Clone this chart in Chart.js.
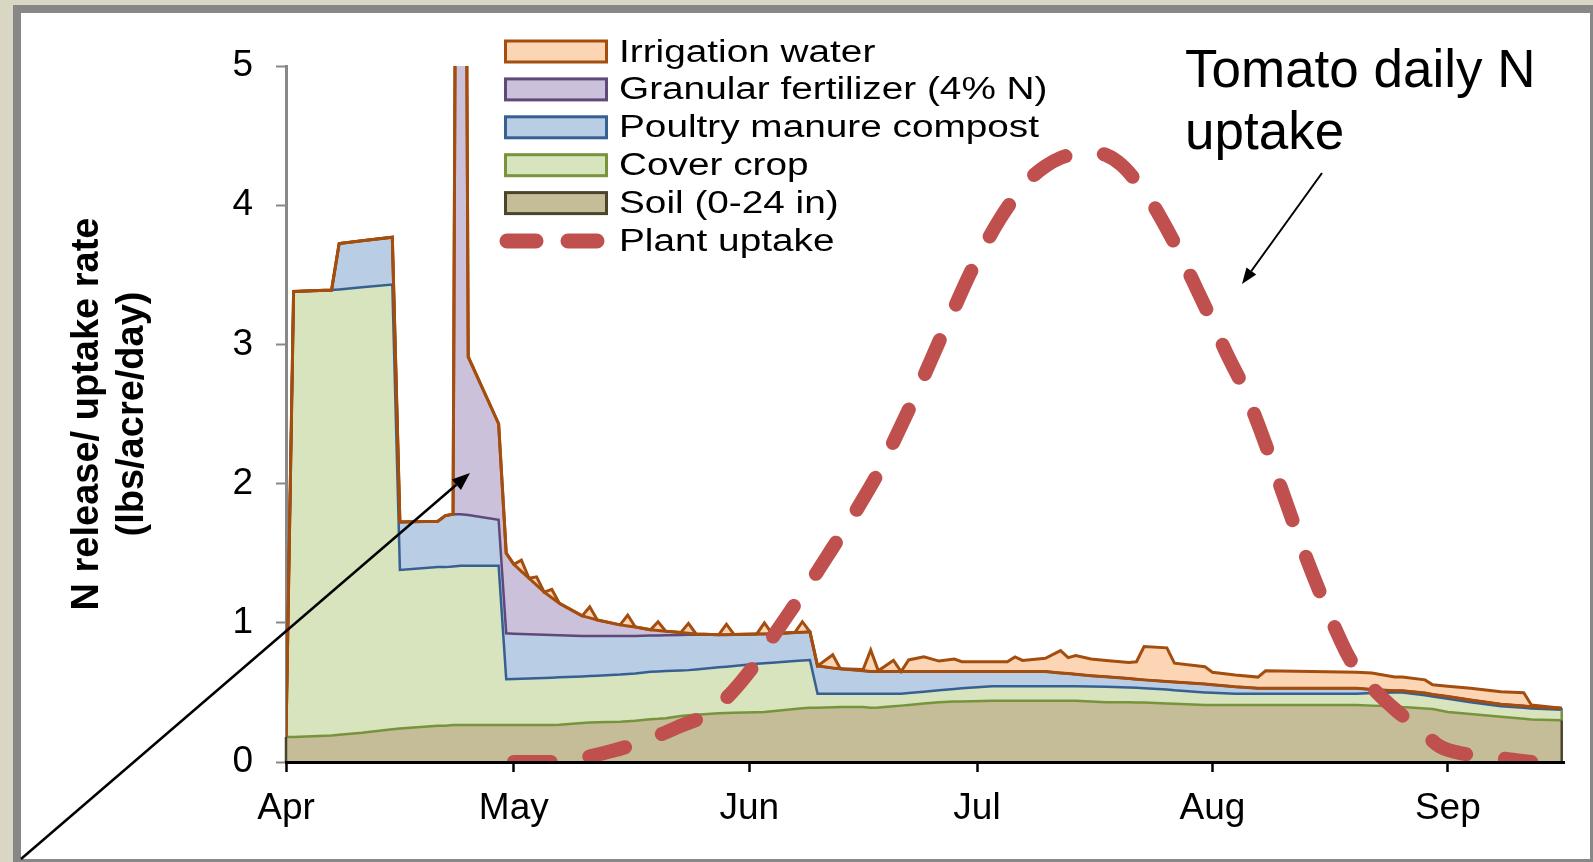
<!DOCTYPE html>
<html><head><meta charset="utf-8">
<script src="https://cdn.jsdelivr.net/npm/chart.js@4.4.0/dist/chart.umd.min.js"></script>
<style>html,body{margin:0;padding:0;background:#fff;}canvas{display:block;}</style>
</head><body>
<canvas id="c" width="1593" height="862"></canvas>
<script>
// ---- data (days after April 1) ----
const days = [0,1,6,7,10,14,15,20,21,22,23,24,28,
  29,30,31,32,33,34,35,36,
  39,40,41,44,45,46,48,49,50,52,53,54,
  57,58,59,62,63,64,67,68,69,
  70,72,73,76,77,78,80,81,82,84,86,88,89,
  93,95,96,97,100,102,103,104,106,108,
  111,112,113,116,117,121,122,125,128,129,
  135,141,143,146,147,150,151,153,156,160,163,164,168];

const soil = [.18,.18,.19,.195,.21,.235,.24,.26,.26,.265,.265,.265,.266,
  .266,.266,.266,.266,.266,.266,.266,.267,
  .28,.283,.286,.29,.293,.296,.307,.31,.315,.33,.335,.34,
  .35,.352,.354,.358,.36,.365,.38,.386,.39,
  .39,.393,.395,.395,.39,.392,.40,.405,.41,.42,.43,.435,.435,
  .44,.44,.44,.44,.44,.44,.44,.44,.435,.43,
  .43,.428,.427,.42,.418,.41,.41,.41,.41,.41,
  .41,.41,.405,.40,.395,.385,.38,.36,.345,.325,.31,.305,.30];

const cover = [0,3.20,3.20,3.20,3.20,3.195,1.14,1.14,1.14,1.14,1.145,1.145,1.144,
  .329,.331,.332,.334,.336,.338,.34,.341,
  .335,.335,.334,.338,.339,.34,.342,.341,.338,.327,.325,.325,
  .33,.333,.336,.347,.35,.348,.345,.344,.343,
  .10,.097,.095,.095,.10,.098,.09,.085,.085,.085,.085,.09,.095,
  .105,.105,.105,.105,.105,.105,.105,.105,.108,.11,
  .105,.105,.103,.10,.097,.09,.087,.08,.08,.08,
  .08,.08,.09,.10,.105,.095,.09,.095,.085,.075,.08,.08,.075];

const poultry = [0,0,0,.33,.335,.34,.345,.33,.37,.375,.37,.365,.33,
  .33,.325,.322,.318,.314,.31,.306,.302,
  .291,.287,.285,.277,.273,.27,.259,.258,.257,.256,.255,.25,
  .235,.23,.226,.215,.21,.209,.205,.202,.202,
  .20,.185,.18,.165,.16,.16,.16,.16,.155,.145,.135,.125,.12,
  .105,.105,.105,.105,.105,.095,.09,.085,.077,.072,
  .065,.062,.06,.058,.059,.06,.058,.05,.04,.04,
  .04,.04,.025,.012,.012,.015,.015,.015,.015,.015,.012,.012,.011];

const granular = [0,0,0,0,0,0,0,0,0,0,12.62,1.135,.69,
  .575,.498,.45,.402,.354,.306,.268,.23,
  .144,.13,.115,.08,.072,.064,.042,.036,.03,.017,.01,.005,
  0,0,0,0,0,0,0,0,0,
  0,0,0,0,0,0,0,0,0,0,0,0,0,
  0,0,0,0,0,0,0,0,0,0,
  0,0,0,0,0,0,0,0,0,0,
  0,0,0,0,0,0,0,0,0,0,0,0,0];

const irrigation = [0,0,0,0,0,0,0,0,0,0,0,0,0,
  0,0,.08,0,.06,0,.06,0,
  0,.08,0,0,.079,0,0,.063,0,0,.071,0,
  0,.075,0,0,.08,0,0,.076,0,
  0,.095,0,.01,.155,.005,.08,0,.083,.105,.075,.09,.07,
  .07,.07,.105,.08,.095,.16,.115,.135,.12,.118,
  .115,.125,.24,.242,.136,.125,.09,.085,.08,.125,
  .12,.115,.12,.098,.098,.095,.07,.075,.085,.09,.096,.013,0];

const uptakeDays = [30,36,38,40,43,46,49,52,55,58,60,62,64,66,68,70,72,74,76,78,80,82,84,86,88,90,92,94,96,98,
  100,102,104,106,108,110,112,114,116,118,120,122,124,126,128,130,132,134,136,138,140,142,144,146,148,150,152,155,158,161,164];
const uptake = [0,0,0.02,0.04,0.08,0.13,0.19,0.26,0.33,0.46,0.58,0.72,0.89,1.05,1.21,1.37,1.54,1.71,1.89,2.08,2.30,2.53,2.77,3.02,3.26,3.50,3.71,3.90,4.06,4.19,
  4.28,4.34,4.37,4.38,4.36,4.29,4.17,4.02,3.83,3.62,3.39,3.16,2.92,2.70,2.43,2.13,1.82,1.52,1.24,0.98,0.75,0.60,0.48,0.38,0.29,0.20,0.11,0.06,0.04,0.02,0];

const monthDays = [0,30,61,91,122,153];
const monthLabels = ['Apr','May','Jun','Jul','Aug','Sep'];
const yTitle = ['N release/ uptake rate','(lbs/acre/day)'];
const noteLines = ['Tomato daily N','uptake'];

// ---- stacked table built from the series (bottom to top) ----
const layers = [soil, cover, poultry, granular, irrigation];
let running = days.map(() => 0);
const stackedTops = layers.map(arr => (running = running.map((r, i) => r + arr[i])));

const pts = (xs, ys) => xs.map((x, i) => ({x: x, y: ys[i]}));
const FONT = "'Liberation Sans', Arial, sans-serif";
Chart.defaults.font.family = FONT;
Chart.defaults.color = '#000';

const framePlugin = {
  id: 'frame',
  beforeDraw(chart) {
    const ctx = chart.ctx, W = chart.width, H = chart.height;
    ctx.save();
    ctx.fillStyle = '#D9D6C3'; ctx.fillRect(0, 0, W, H);
    ctx.fillStyle = '#878787'; ctx.fillRect(13, 5, W - 13, H - 5);
    ctx.fillStyle = '#FFFFFF'; ctx.fillRect(21, 13, 1590 - 21, 859 - 13);
    ctx.restore();
  }
};

const edgePlugin = {
  id: 'edges',
  beforeDatasetDraw(chart, args) {
    if (args.index !== 5) return;
    const ctx = chart.ctx, ys = chart.scales.y;
    ctx.save();
    for (let i = 0; i < 5; i++) {
      const el = chart.getDatasetMeta(i).data;
      [0, el.length - 1].forEach(k => {
        const top = el[k].y;
        const bottom = i === 0 ? ys.getPixelForValue(0) : chart.getDatasetMeta(i - 1).data[k].y;
        if (bottom - top > 0.5) {
          ctx.beginPath(); ctx.moveTo(el[k].x, bottom); ctx.lineTo(el[k].x, top);
          ctx.strokeStyle = chart.data.datasets[i].legendStroke; ctx.lineWidth = 2.5; ctx.stroke();
        }
      });
    }
    ctx.restore();
  }
};

function arrow(ctx, x1, y1, x2, y2, lw, hl, hw) {
  const a = Math.atan2(y2 - y1, x2 - x1);
  const bx = x2 - hl * Math.cos(a), by = y2 - hl * Math.sin(a);
  ctx.beginPath(); ctx.moveTo(x1, y1); ctx.lineTo(bx, by);
  ctx.lineWidth = lw; ctx.strokeStyle = '#000'; ctx.stroke();
  ctx.beginPath(); ctx.moveTo(x2, y2);
  ctx.lineTo(bx + hw * Math.sin(a), by - hw * Math.cos(a));
  ctx.lineTo(bx - hw * Math.sin(a), by + hw * Math.cos(a));
  ctx.closePath(); ctx.fillStyle = '#000'; ctx.fill();
}

const overlayPlugin = {
  id: 'overlay',
  afterDraw(chart) {
    const ctx = chart.ctx;
    ctx.save();
    const order = [4, 3, 2, 1, 0, 5];
    order.forEach((di, row) => {
      const ds = chart.data.datasets[di];
      const cy = 51.5 + row * 37.9;
      if (di === 5) {
        ctx.save();
        ctx.strokeStyle = ds.borderColor; ctx.lineWidth = 15; ctx.lineCap = 'round';
        ctx.setLineDash([29, 32]);
        ctx.beginPath(); ctx.moveTo(507, cy); ctx.lineTo(598, cy); ctx.stroke();
        ctx.restore();
      } else {
        ctx.fillStyle = ds.backgroundColor; ctx.fillRect(505.5, cy - 10.5, 101, 21);
        ctx.strokeStyle = ds.legendStroke; ctx.lineWidth = 3; ctx.strokeRect(505.5, cy - 10.5, 101, 21);
      }
      ctx.save();
      ctx.translate(619, cy + 10);
      ctx.scale(1.25, 1);
      ctx.font = '31px ' + FONT; ctx.fillStyle = '#000'; ctx.textBaseline = 'alphabetic';
      ctx.fillText(ds.label, 0, 0);
      ctx.restore();
    });
    ctx.font = '53px ' + FONT; ctx.fillStyle = '#000'; ctx.textBaseline = 'alphabetic';
    ctx.fillText(noteLines[0], 1185, 87);
    ctx.fillText(noteLines[1], 1185, 149);
    arrow(ctx, 1322, 173, 1242, 284, 2, 16, 6);
    arrow(ctx, 21, 859, 470, 473, 2.5, 18, 7);
    ctx.restore();
  }
};

const areaBase = {pointRadius: 0, borderWidth: 3, tension: 0, clip: 0, borderJoinStyle: 'miter'};

new Chart(document.getElementById('c'), {
  type: 'line',
  data: {
    datasets: [
      Object.assign({}, areaBase, {label: 'Soil (0-24 in)', data: pts(days, stackedTops[0]), fill: 'origin',
        backgroundColor: '#C4BD97', borderColor: '#77933C', legendStroke: '#4A452A', order: 5, borderWidth: 2.5}),
      Object.assign({}, areaBase, {label: 'Cover crop', data: pts(days, stackedTops[1]), fill: '-1',
        backgroundColor: '#D7E4BD', borderColor: '#376092', legendStroke: '#77933C', order: 4, borderWidth: 2.5}),
      Object.assign({}, areaBase, {label: 'Poultry manure compost', data: pts(days, stackedTops[2]), fill: '-1',
        backgroundColor: '#B9CDE5', borderColor: '#5F497A', legendStroke: '#376092', order: 3, borderWidth: 2.5}),
      Object.assign({}, areaBase, {label: 'Granular fertilizer (4% N)', data: pts(days, stackedTops[3]), fill: '-1',
        backgroundColor: '#CCC1DA', borderColor: '#A34E0E', legendStroke: '#5F497A', order: 2}),
      Object.assign({}, areaBase, {label: 'Irrigation water', data: pts(days, stackedTops[4]), fill: '-1',
        backgroundColor: '#FCD5B5', borderColor: '#A34E0E', legendStroke: '#A34E0E', order: 1}),
      {label: 'Plant uptake', data: pts(uptakeDays, uptake), fill: false, order: 0,
        borderColor: '#C0504D', backgroundColor: '#C0504D', borderWidth: 14, borderDash: [37, 39],
        borderCapStyle: 'round', pointRadius: 0, cubicInterpolationMode: 'monotone', clip: 0}
    ]
  },
  options: {
    responsive: false,
    animation: false,
    events: [],
    layout: {padding: {top: 66, right: 29, left: 0, bottom: 0}},
    plugins: {
      legend: {display: false},
      tooltip: {enabled: false},
      filler: {drawTime: 'beforeDatasetsDraw'}
    },
    scales: {
      x: {
        type: 'linear', min: 0, max: 168.3,
        afterBuildTicks: s => { s.ticks = monthDays.map(v => ({value: v})); },
        afterFit: s => { s.height = 100; },
        ticks: {callback: (v, i) => monthLabels[i], font: {size: 37}, color: '#000', padding: 15,
          maxRotation: 0, autoSkip: false},
        grid: {drawOnChartArea: false, drawTicks: true, tickLength: 10, tickColor: '#000', tickWidth: 2.5},
        border: {display: true, color: '#000', width: 3, z: 1}
      },
      y: {
        min: 0, max: 5,
        afterFit: s => { s.width = 286; },
        ticks: {stepSize: 1, font: {size: 37}, color: '#000', padding: 23},
        grid: {drawOnChartArea: false, drawTicks: true, tickLength: 10, tickColor: '#888888', tickWidth: 2},
        border: {display: true, color: '#888888', width: 3},
        title: {display: true, text: yTitle, color: '#000',
          font: {size: 38, weight: 'bold', lineHeight: 1.18}, padding: {top: 65, bottom: 0}}
      }
    }
  },
  plugins: [framePlugin, edgePlugin, overlayPlugin]
});
</script>
</body></html>
